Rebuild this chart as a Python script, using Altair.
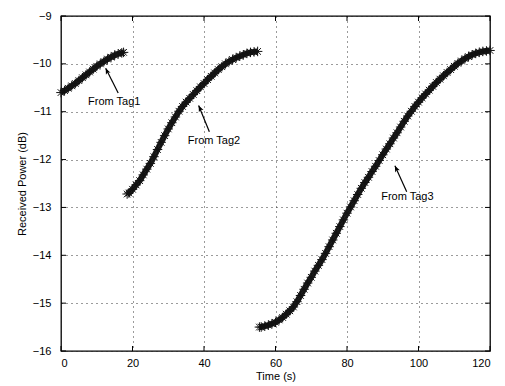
import altair as alt
import pandas as pd

# ---- data ----
t1 = [0, 1, 2, 3, 4, 5, 6, 7, 8, 9, 10, 11, 12, 13, 14, 15, 16, 17, 17.5]
p1 = [-10.60, -10.56, -10.51, -10.46, -10.41, -10.35, -10.29, -10.23, -10.17, -10.11,
      -10.05, -10.00, -9.95, -9.90, -9.86, -9.82, -9.79, -9.77, -9.76]

t2 = [18.5, 19, 20, 21, 22, 23, 24, 25, 26, 27, 28, 29, 30, 31, 32, 33, 34, 35, 36, 37,
      38, 39, 40, 41, 42, 43, 44, 45, 46, 47, 48, 49, 50, 51, 52, 53, 54, 55]
p2 = [-12.72, -12.70, -12.62, -12.53, -12.44, -12.32, -12.20, -12.08, -11.94, -11.79,
      -11.64, -11.50, -11.36, -11.23, -11.11, -10.99, -10.89, -10.80, -10.72, -10.64,
      -10.56, -10.48, -10.41, -10.33, -10.26, -10.19, -10.12, -10.06, -10.00, -9.95,
      -9.91, -9.87, -9.84, -9.81, -9.78, -9.76, -9.75, -9.74]

t3 = [55.5, 56, 57, 58, 59, 60, 61, 62, 63, 64, 65, 66, 67, 68, 69, 70, 71, 72, 73, 74,
      75, 76, 77, 78, 79, 80, 81, 82, 83, 84, 85, 86, 87, 88, 89, 90, 91, 92, 93, 94,
      95, 96, 97, 98, 99, 100, 101, 102, 103, 104, 105, 106, 107, 108, 109, 110, 111,
      112, 113, 114, 115, 116, 117, 118, 119, 120]
p3 = [-15.50, -15.50, -15.48, -15.46, -15.43, -15.40, -15.35, -15.30, -15.23, -15.16,
      -15.08, -14.97, -14.84, -14.71, -14.58, -14.46, -14.33, -14.21, -14.09, -13.96,
      -13.82, -13.68, -13.54, -13.40, -13.26, -13.12, -12.99, -12.86, -12.73, -12.60,
      -12.48, -12.37, -12.25, -12.14, -12.02, -11.90, -11.78, -11.67, -11.55, -11.44,
      -11.32, -11.20, -11.09, -10.99, -10.89, -10.80, -10.71, -10.63, -10.55, -10.47,
      -10.39, -10.32, -10.25, -10.18, -10.12, -10.05, -9.99, -9.94, -9.89, -9.85,
      -9.81, -9.78, -9.76, -9.74, -9.73, -9.72]

labels = ["From Tag1", "From Tag2", "From Tag3"]
label_t = [14.9, 42.8, 96.9]
label_p = [-10.79, -11.61, -12.79]
tip_t = [12.5, 38.5, 93.4]
tip_p = [-10.09, -10.87, -12.13]
tail_t = [16.0, 41.5, 96.7]
tail_p = [-10.61, -11.42, -12.67]

x_ticks = [0, 20, 40, 60, 80, 100, 120]
y_ticks = [-16, -15, -14, -13, -12, -11, -10, -9]

# ---- tables ----
rows = []
for name, ts, ps in [("Tag1", t1, p1), ("Tag2", t2, p2), ("Tag3", t3, p3)]:
    for t, p in zip(ts, ps):
        rows.append({"series": name, "t": t, "p": p})
df = pd.DataFrame(rows)

ann = pd.DataFrame({"label": labels, "lt": label_t, "lp": label_p,
                    "tt": tip_t, "tp": tip_p, "at": tail_t, "ap": tail_p})
xt = pd.DataFrame({"t": x_ticks})
yt = pd.DataFrame({"p": y_ticks})

W, H = 429, 335
FONT = "Liberation Sans"
STAR = "M-1,0L1,0M0,-1L0,1M-0.7,-0.7L0.7,0.7M-0.7,0.7L0.7,-0.7"
HEAD = "M0,0L-0.42,1L0,0.75L0.42,1Z"

xs = alt.Scale(domain=[0, 120], nice=False, zero=False)
ys = alt.Scale(domain=[-16, -9], nice=False, zero=False)
x_axis = alt.Axis(values=x_ticks, title="Time (s)", labelPadding=6, titlePadding=2,
                  format="d")
y_axis = alt.Axis(values=y_ticks, title="Received Power (dB)", labelPadding=10,
                  titlePadding=5, format="d")


def X(f):
    return alt.X(f, type="quantitative", scale=xs, axis=x_axis)


def Y(f):
    return alt.Y(f, type="quantitative", scale=ys, axis=y_axis)


band = alt.Chart(df).mark_line(strokeWidth=6, color="#1c1c1c").encode(
    x=X("t"), y=Y("p"), detail="series:N")
stars = alt.Chart(df).mark_point(shape=STAR, size=90, filled=False, strokeWidth=1,
                                 color="#111111", opacity=1).encode(x=X("t"), y=Y("p"))

shafts = alt.Chart(ann).mark_rule(strokeWidth=1.2, color="black").encode(
    x=X("at"), y=Y("ap"), x2="tt:Q", y2="tp:Q")
heads = alt.Chart(ann).mark_point(shape=HEAD, size=150, filled=True, color="black",
                                  opacity=1, angle=335).encode(x=X("tt"), y=Y("tp"))
texts = alt.Chart(ann).mark_text(font=FONT, fontSize=11, color="black",
                                 align="center", baseline="middle").encode(
    x=X("lt"), y=Y("lp"), text="label:N")

# inward ticks (MATLAB style) on all four sides
xb = alt.Chart(xt).mark_rule(color="black", strokeWidth=1).encode(
    x=X("t"), y=alt.value(H), y2=alt.value(H - 5))
xtop = alt.Chart(xt).mark_rule(color="black", strokeWidth=1).encode(
    x=X("t"), y=alt.value(0), y2=alt.value(5))
yl = alt.Chart(yt).mark_rule(color="black", strokeWidth=1).encode(
    y=Y("p"), x=alt.value(0), x2=alt.value(5))
yr = alt.Chart(yt).mark_rule(color="black", strokeWidth=1).encode(
    y=Y("p"), x=alt.value(W - 5), x2=alt.value(W))

chart = alt.layer(band, stars, shafts, heads, texts, xb, xtop, yl, yr).properties(
    width=W, height=H,
    background="white",
    autosize=alt.AutoSizeParams(type="none"),
    padding={"left": 53, "top": 8, "right": 7, "bottom": 36},
).configure_view(stroke="black", strokeWidth=1.3).configure_axis(
    labelFont=FONT, titleFont=FONT, labelFontSize=11, titleFontSize=11,
    titleFontWeight="normal", labelColor="black", titleColor="black",
    grid=True, gridColor="#222222", gridDash=[1, 4], gridWidth=1, gridOpacity=0.9,
    domain=False, ticks=False,
)

chart.save("out.html", embed_options={"renderer": "svg", "actions": False})
